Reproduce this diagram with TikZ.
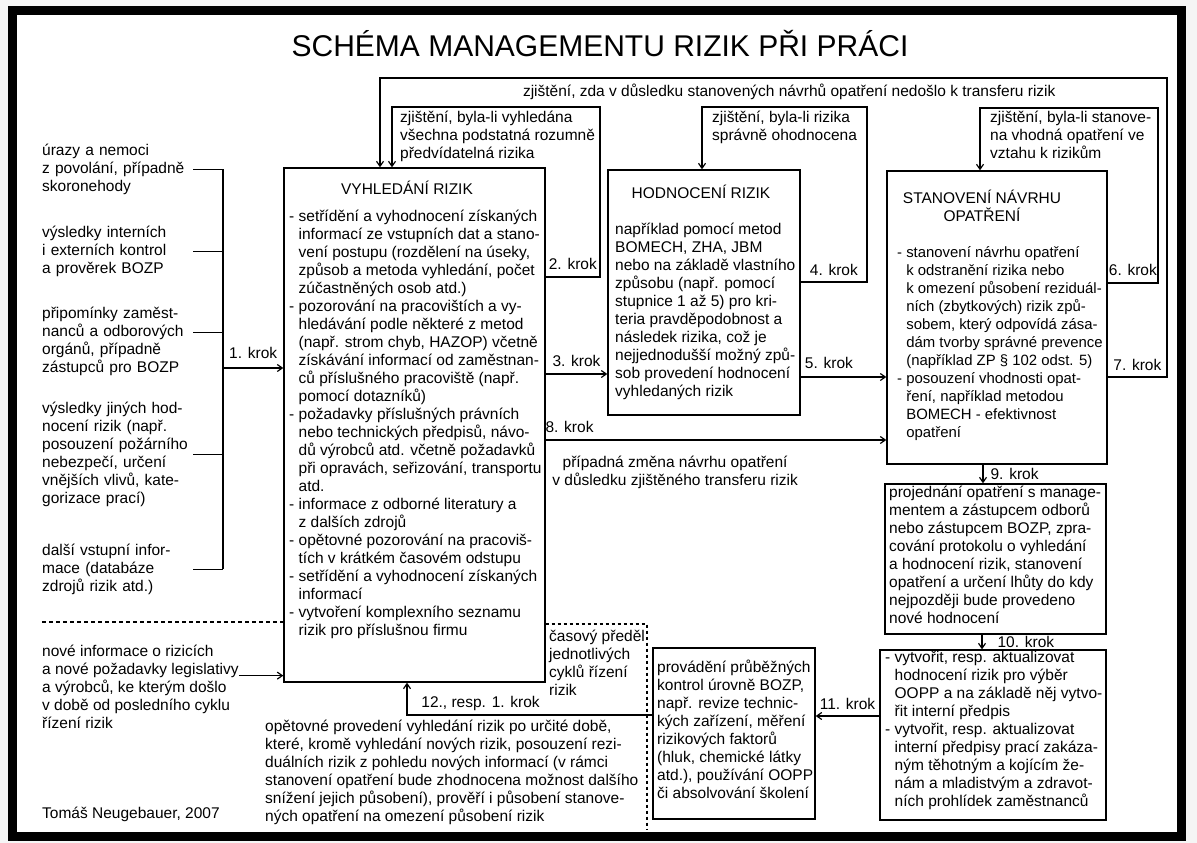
\documentclass[tikz,border=0pt]{standalone}
\usepackage{fontspec}
\setmainfont{Liberation Sans}
\usepackage{tikz}
\usetikzlibrary{arrows.meta,positioning}

\newcommand{\bodyfont}{\fontsize{15.5}{18}\selectfont}
\newcommand{\ind}{\hphantom{- }}

\tikzstyle{box} = [rectangle, draw, line width=1.4pt, inner sep=0pt]
\tikzstyle{txt} = [anchor=north west, align=left, inner sep=0pt, font=\bodyfont, execute at begin node=\strut]
\tikzstyle{head} = [anchor=north, align=center, inner sep=0pt, font=\bodyfont, execute at begin node=\strut]
\tikzstyle{krok} = [inner sep=0pt, font=\bodyfont]
\tikzstyle{line} = [line width=1.2pt]
\tikzstyle{arrow} = [line width=1.2pt, -{Straight Barb[length=5pt,width=7pt]}]
\tikzstyle{cut} = [line width=1.2pt, dash pattern=on 4pt off 3pt]

\begin{document}
\begin{tikzpicture}[x=1pt, y=-1pt]
\useasboundingbox (0,0) rectangle (1197,843);
\fill[gray!8] (0,0) rectangle (1197,843);
\draw[line width=9pt, fill=white] (12,10.5) rectangle (1181.5,836);

% Title
\node[anchor=base, inner sep=0pt, font=\fontsize{30}{36}\selectfont] (title) at (600,57) {SCHÉMA MANAGEMENTU RIZIK PŘI PRÁCI};

% Inputs
\node[txt, text width=151pt] (in1) at (42,143) {úrazy a nemoci\\z povolání, případně\\skoronehody};
\node[txt, text width=151pt] (in2) at (42,225) {výsledky interních\\i externích kontrol\\a prověrek BOZP};
\node[txt, text width=151pt] (in3) at (42,306) {připomínky zaměst-\\nanců a odborových\\orgánů, případně\\zástupců pro BOZP};
\node[txt, text width=151pt] (in4) at (42,401) {výsledky jiných hod-\\nocení rizik (např.\\posouzení požárního\\nebezpečí, určení\\vnějších vlivů, kate-\\gorizace prací)};
\node[txt, text width=151pt] (in5) at (42,543) {další vstupní infor-\\mace (databáze\\zdrojů rizik atd.)};
\node[txt] (in6) at (42,645) {nové informace o rizicích\\a nové požadavky legislativy\\a výrobců, ke kterým došlo\\v době od posledního cyklu\\řízení rizik};
\node[txt] (author) at (42,806) {Tomáš Neugebauer, 2007};

% Boxes
\node[box, minimum width=261pt, minimum height=514pt] (find) at (414.5,425) {};
\node[box, minimum width=192pt, minimum height=245pt] (assess) at (704,292.5) {};
\node[box, minimum width=220pt, minimum height=293pt] (measures) at (997,317.5) {};
\node[box, minimum width=221pt, minimum height=150pt] (discuss) at (995.5,559) {};
\node[box, minimum width=226pt, minimum height=170pt] (docs) at (993,735) {};
\node[box, minimum width=162pt, minimum height=171pt] (check) at (734,733.5) {};

% Box texts
\node[head] (findhead) at (407,181) {VYHLEDÁNÍ RIZIK};
\node[txt] (findtext) at (289,210) {- setřídění a vyhodnocení získaných\\\ind informací ze vstupních dat a stano-\\\ind vení postupu (rozdělení na úseky,\\\ind způsob a metoda vyhledání, počet\\\ind zúčastněných osob atd.)\\- pozorování na pracovištích a vy-\\\ind hledávání podle některé z metod\\\ind (např. strom chyb, HAZOP) včetně\\\ind získávání informací od zaměstnan-\\\ind ců příslušného pracoviště (např.\\\ind pomocí dotazníků)\\- požadavky příslušných právních\\\ind nebo technických předpisů, návo-\\\ind dů výrobců atd. včetně požadavků\\\ind při opravách, seřizování, transportu\\\ind atd.\\- informace z odborné literatury a\\\ind z dalších zdrojů\\- opětovné pozorování na pracoviš-\\\ind tích v krátkém časovém odstupu\\- setřídění a vyhodnocení získaných\\\ind informací\\- vytvoření komplexního seznamu\\\ind rizik pro příslušnou firmu};
\node[head] (assesshead) at (701,185) {HODNOCENÍ RIZIK};
\node[txt] (assesstext) at (615,223) {například pomocí metod\\BOMECH, ZHA, JBM\\nebo na základě vlastního\\způsobu (např. pomocí\\stupnice 1 až 5) pro kri-\\teria pravděpodobnost a\\následek rizika, což je\\nejjednodušší možný způ-\\sob provedení hodnocení\\vyhledaných rizik};
\node[head] (measureshead) at (982,190) {STANOVENÍ NÁVRHU\\OPATŘENÍ};
\node[txt, font=\fontsize{14.9}{18}\selectfont] (measurestext) at (897,246) {- stanovení návrhu opatření\\\ind k odstranění rizika nebo\\\ind k omezení působení reziduál-\\\ind ních (zbytkových) rizik způ-\\\ind sobem, který odpovídá zása-\\\ind dám tvorby správné prevence\\\ind (například ZP \S{} 102 odst. 5)\\- posouzení vhodnosti opat-\\\ind ření, například metodou\\\ind BOMECH - efektivnost\\\ind opatření};
\node[txt] (discusstext) at (889,486) {projednání opatření s manage-\\mentem a zástupcem odborů\\nebo zástupcem BOZP, zpra-\\cování protokolu o vyhledání\\a hodnocení rizik, stanovení\\opatření a určení lhůty do kdy\\nejpozději bude provedeno\\nové hodnocení};
\node[txt] (docstext) at (885,651) {- vytvořit, resp. aktualizovat\\\ind hodnocení rizik pro výběr\\\ind OOPP a na základě něj vytvo-\\\ind řit interní předpis\\- vytvořit, resp. aktualizovat\\\ind interní předpisy prací zakáza-\\\ind ným těhotným a kojícím že-\\\ind nám a mladistvým a zdravot-\\\ind ních prohlídek zaměstnanců};
\node[txt] (checktext) at (657,660) {provádění průběžných\\kontrol úrovně BOZP,\\např. revize technic-\\kých zařízení, měření\\rizikových faktorů\\(hluk, chemické látky\\atd.), používání OOPP\\či absolvování školení};

% Loop texts
\node[txt] (loopfind) at (400,111) {zjištění, byla-li vyhledána\\všechna podstatná rozumně\\předvídatelná rizika};
\node[txt] (loopassess) at (712,111) {zjištění, byla-li rizika\\správně ohodnocena};
\node[txt] (loopmeas) at (990,111) {zjištění, byla-li stanove-\\na vhodná opatření ve\\vztahu k rizikům};
\node[txt] (cycle) at (549,630) {časový předěl\\jednotlivých\\cyklů řízení\\rizik};
\node[txt] (again) at (265,720) {opětovné provedení vyhledání rizik po určité době,\\které, kromě vyhledání nových rizik, posouzení rezi-\\duálních rizik z pohledu nových informací (v rámci\\stanovení opatření bude zhodnocena možnost dalšího\\snížení jejich působení), prověří i působení stanove-\\ných opatření na omezení působení rizik};

% Inputs into the search
\coordinate (bus) at (223,0);
\coordinate (in3out) at ([yshift=9pt]in3.east);
\draw[line] (in1.east) -- (in1.east -| bus);
\draw[line] (in2.east) -- (in2.east -| bus);
\draw[line] (in3out) -- (in3out -| bus);
\draw[line] (in4.east) -- (in4.east -| bus);
\draw[line] (in5.east) -- (in5.east -| bus);
\draw[line] (in1.east -| bus) -- (in5.east -| bus);
\coordinate (busout) at (223,368);
\draw[arrow] (busout) -- node[krok, above=9pt] {1. krok} (busout -| find.west);
\coordinate (newinfo) at ([yshift=14pt]in6.east);
\draw[arrow] (newinfo) -- (newinfo -| find.west);
\draw[cut] (42,622) -- (find.west |- 0,622);

% Main flow
\draw[arrow] (find.east |- 0,374) -- node[krok, above=6.4pt] {3. krok} (assess.west |- 0,374);
\draw[arrow] (assess.east |- 0,377) -- node[krok, above=7.4pt, pos=0.33] {5. krok} (measures.west |- 0,377);
\draw[arrow] (find.east |- 0,440) -- node[krok, above=6.4pt, pos=0.07] {8. krok}
  node[head, below=15pt, pos=0.38] {případná změna návrhu opatření\\v důsledku zjištěného transferu rizik} (measures.west |- 0,440);
\draw[arrow] ([xshift=-14pt]measures.south) -- node[krok, right=7pt] {9. krok} ([xshift=-14pt]measures.south |- discuss.north);
\draw[arrow] ([xshift=-13.5pt]discuss.south) -- node[krok, right=15pt] {10. krok} ([xshift=-13.5pt]discuss.south |- docs.north);
\draw[arrow] (docs.west |- 0,716) -- node[krok, above=5.4pt] {11. krok} (check.east |- 0,716);
\draw[arrow] (check.west |- 0,715) -- node[krok, above=4pt, pos=0.7] {12., resp. 1. krok} (407,715) -- (find.south -| 407,0);

% Feedback loops
\draw[arrow] (find.east |- 0,277) -- node[krok, above=6.4pt] {2. krok} (600,277) -- (600,107) -| ([xshift=-22.5pt]find.north);
\draw[arrow] (assess.east |- 0,282) -- node[krok, above=5.4pt] {4. krok} (867,282) -- (867,107) -| ([xshift=-2pt]assess.north);
\draw[arrow] (measures.east |- 0,283) -- node[krok, above=6.4pt] {6. krok} (1158,283) -- (1158,108) -| ([xshift=-17pt]measures.north);
\draw[arrow] (measures.east |- 0,377) -- node[krok, above=5.4pt] {7. krok} (1167,377) -- (1167,78)
  -- node[krok, below=5pt, pos=0.48] {zjištění, zda v důsledku stanovených návrhů opatření nedošlo k transferu rizik} (380,78) -- ([xshift=-34.5pt]find.north);

% Cycle boundary
\draw[cut, dash pattern=on 3pt off 3pt] (find.east |- 0,624) -- (647,624) -- (647,830);
\end{tikzpicture}
\end{document}
